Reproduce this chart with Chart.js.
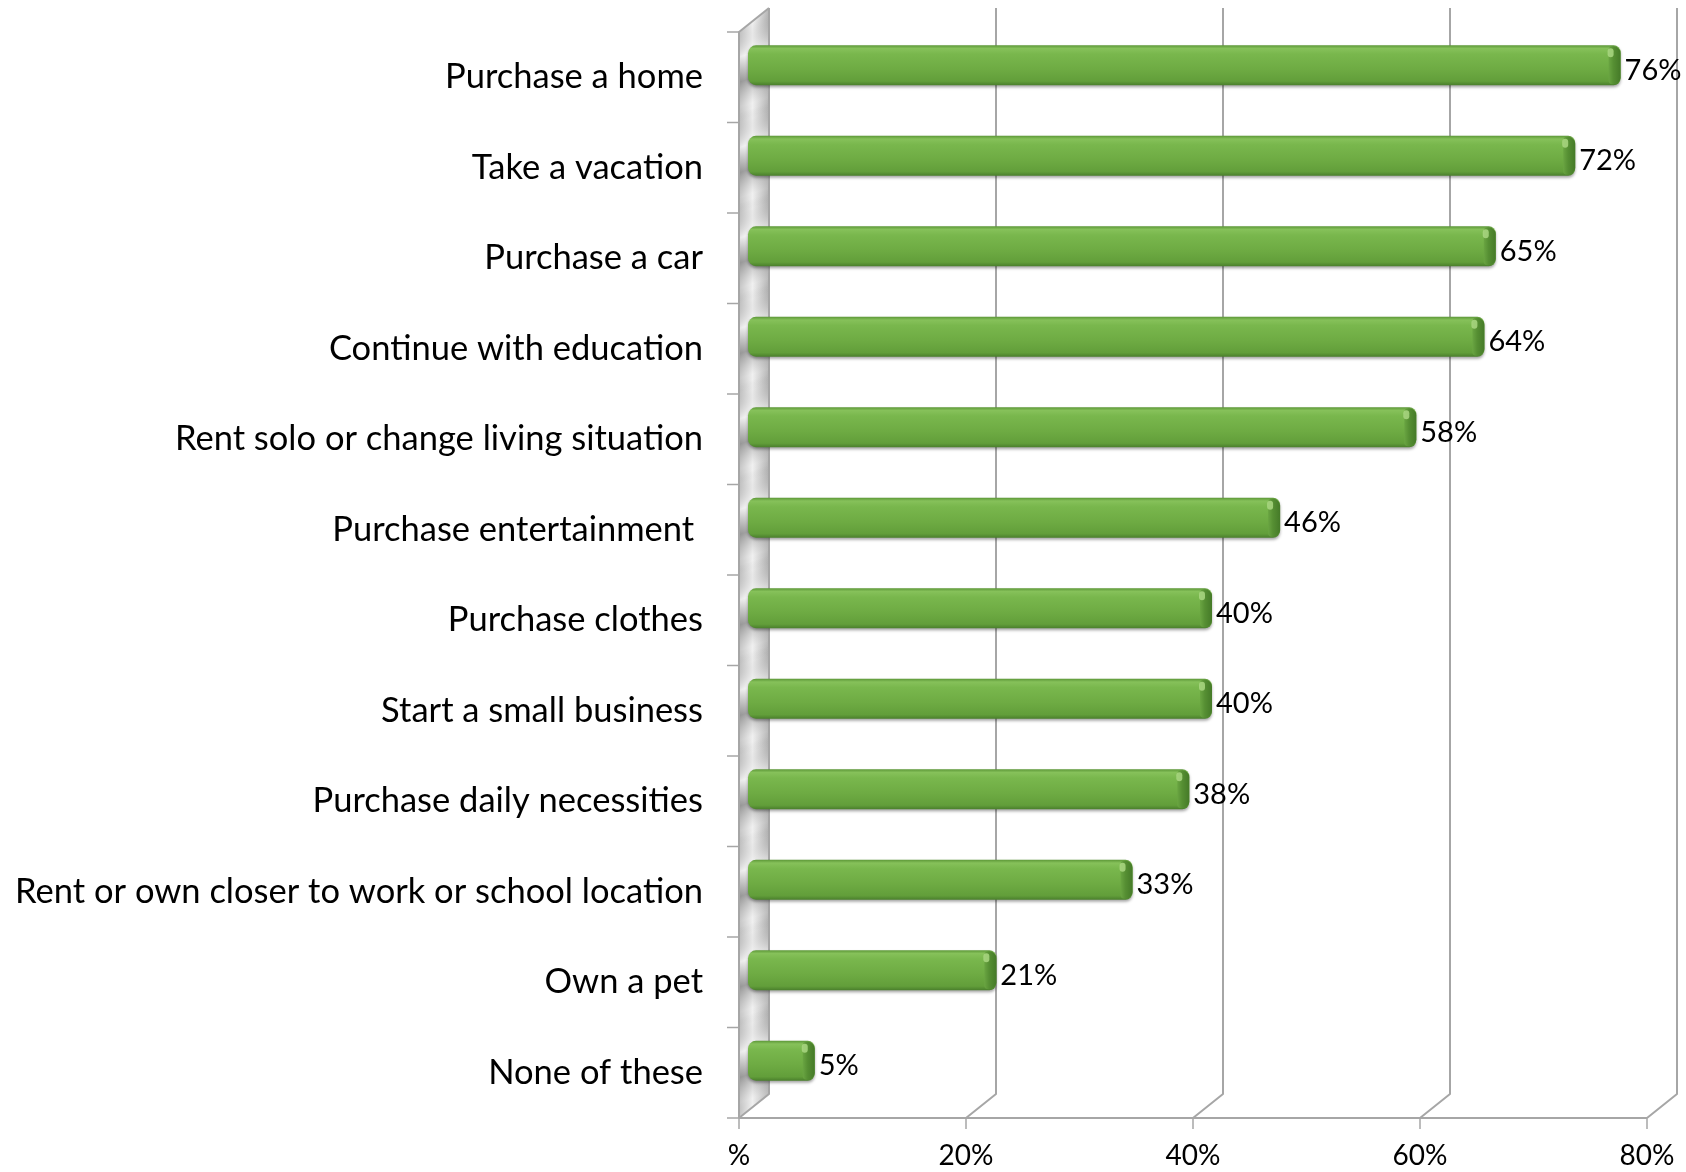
<!DOCTYPE html>
<html>
<head>
<meta charset="utf-8">
<script src="https://cdn.jsdelivr.net/npm/chart.js@4.4.0/dist/chart.umd.min.js"></script>
<style>
  html, body { margin: 0; padding: 0; background: #fff; }
  #wrap { width: 1686px; height: 1172px; }
</style>
</head>
<body>
<div id="wrap"><canvas id="chart"></canvas></div>
<script>
const categories = [
    'Purchase a home',
    'Take a vacation',
    'Purchase a car',
    'Continue with education',
    'Rent solo or change living situation',
    'Purchase entertainment ',
    'Purchase clothes',
    'Start a small business',
    'Purchase daily necessities',
    'Rent or own closer to work or school location',
    'Own a pet',
    'None of these'
];
const shares = [0.76, 0.72, 0.65, 0.64, 0.58, 0.46, 0.40, 0.40, 0.38, 0.33, 0.21, 0.05];
const shareLabels = ['76%', '72%', '65%', '64%', '58%', '46%', '40%', '40%', '38%', '33%', '21%', '5%'];
const xTicks = [0, 0.2, 0.4, 0.6, 0.8];
const xTickLabels = ['%', '20%', '40%', '60%', '80%'];

const FONT = 'Lato, "Open Sans", sans-serif';
// half of the 3D depth: back plane is up-right, front plane is down-left of the chart area
const DX = 15, DY = 12;
const LINE = '#a6a6a6';

// keep chart.js from reserving room for edge labels
const noPad = s => { s.paddingTop = 0; s.paddingBottom = 0; s.paddingLeft = 0; s.paddingRight = 0; };

const frame3d = {
    id: 'frame3d',
    beforeDatasetsDraw(chart) {
        const ctx = chart.ctx;
        const xs = chart.scales.x;
        const area = chart.chartArea;
        const band = area.height / categories.length;
        const x0 = xs.getPixelForValue(0);

        ctx.save();
        // side wall: horizontal sheen first, then a diagonal shade per band
        const wallPath = () => {
            ctx.beginPath();
            ctx.moveTo(x0 - DX, area.top + DY);
            ctx.lineTo(x0 + DX, area.top - DY);
            ctx.lineTo(x0 + DX, area.bottom - DY);
            ctx.lineTo(x0 - DX, area.bottom + DY);
            ctx.closePath();
        };
        const sheen = ctx.createLinearGradient(x0 - DX, 0, x0 + DX, 0);
        sheen.addColorStop(0, '#c4c4c4');
        sheen.addColorStop(0.45, '#fafafa');
        sheen.addColorStop(1, '#b4b4b4');
        ctx.fillStyle = sheen;
        wallPath();
        ctx.fill();
        ctx.save();
        wallPath();
        ctx.clip();
        for (let i = 0; i < categories.length; i++) {
            const fTop = area.top + DY + i * band;
            const g = ctx.createLinearGradient(x0 - DX, fTop - 10, x0 + DX, fTop + band - 10);
            g.addColorStop(0, 'rgba(120,120,120,0)');
            g.addColorStop(0.35, 'rgba(255,255,255,0.6)');
            g.addColorStop(0.6, 'rgba(110,110,110,0.55)');
            g.addColorStop(0.85, 'rgba(200,200,200,0.2)');
            g.addColorStop(1, 'rgba(120,120,120,0)');
            ctx.fillStyle = g;
            ctx.fillRect(x0 - DX, fTop - 2 * DY, 2 * DX, band + 2 * DY);
        }
        ctx.restore();

        ctx.strokeStyle = LINE;
        ctx.lineWidth = 2;
        ctx.lineJoin = 'round';

        // back gridlines with their floor diagonals
        xTicks.forEach(v => {
            const px = xs.getPixelForValue(v);
            ctx.beginPath();
            ctx.moveTo(px + DX, area.top - DY);
            ctx.lineTo(px + DX, area.bottom - DY);
            ctx.lineTo(px - DX, area.bottom + DY);
            ctx.stroke();
        });

        // wall front edge and top
        ctx.beginPath();
        ctx.moveTo(x0 + DX, area.top - DY);
        ctx.lineTo(x0 - DX, area.top + DY);
        ctx.lineTo(x0 - DX, area.bottom + DY);
        ctx.stroke();

        // floor front edge
        ctx.beginPath();
        ctx.moveTo(x0 - DX, area.bottom + DY);
        ctx.lineTo(xs.getPixelForValue(0.8) - DX, area.bottom + DY);
        ctx.stroke();

        // tick marks
        ctx.lineWidth = 1.5;
        for (let k = 0; k <= categories.length; k++) {
            const ty = area.top + DY + k * band;
            ctx.beginPath();
            ctx.moveTo(x0 - DX - 12, ty);
            ctx.lineTo(x0 - DX, ty);
            ctx.stroke();
        }
        xTicks.forEach(v => {
            const px = xs.getPixelForValue(v) - DX;
            ctx.beginPath();
            ctx.moveTo(px, area.bottom + DY);
            ctx.lineTo(px, area.bottom + DY + 11);
            ctx.stroke();
        });
        ctx.restore();
    },
    afterDatasetsDraw(chart) {
        const ctx = chart.ctx;
        const meta = chart.getDatasetMeta(0);
        ctx.save();
        meta.data.forEach((bar, i) => {
            const p = bar.getProps(['x', 'y', 'base', 'height'], true);
            const top = p.y - p.height / 2;
            const h = p.height;
            const left = p.base - 6;
            const right = p.x + 4;

            // body with soft shadow
            ctx.save();
            ctx.shadowColor = 'rgba(0,0,0,0.35)';
            ctx.shadowBlur = 3;
            ctx.shadowOffsetY = 2;
            const g = ctx.createLinearGradient(0, top, 0, top + h);
            g.addColorStop(0, '#5d9838');
            g.addColorStop(0.08, '#86c15a');
            g.addColorStop(0.22, '#79b74d');
            g.addColorStop(0.6, '#6eab43');
            g.addColorStop(0.9, '#629e3a');
            g.addColorStop(1, '#4a7f2c');
            ctx.fillStyle = g;
            ctx.beginPath();
            ctx.roundRect(left, top, right - left, h, [8, 7, 7, 8]);
            ctx.fill();
            ctx.restore();

            // end face of the bar
            const cw = 12;
            const cg = ctx.createLinearGradient(right - cw, 0, right, 0);
            cg.addColorStop(0, '#6aa542');
            cg.addColorStop(0.4, '#568f33');
            cg.addColorStop(1, '#457a28');
            ctx.fillStyle = cg;
            ctx.beginPath();
            ctx.roundRect(right - cw, top + 1, cw, h - 2, [4, 7, 7, 4]);
            ctx.fill();
            // highlight at the top of the end face
            ctx.fillStyle = 'rgba(170,215,130,0.85)';
            ctx.beginPath();
            ctx.roundRect(right - cw - 1, top + 3, 6, 9, 3);
            ctx.fill();

            // value label
            ctx.fillStyle = '#000';
            ctx.font = '29px ' + FONT;
            ctx.textAlign = 'left';
            ctx.textBaseline = 'middle';
            ctx.fillText(shareLabels[i], right + 4, p.y + 5);
        });
        ctx.restore();
    }
};

new Chart(document.getElementById('chart'), {
    type: 'bar',
    data: {
        labels: categories,
        datasets: [{
            data: shares,
            backgroundColor: 'rgba(0,0,0,0)',
            borderWidth: 0,
            barPercentage: 0.9,
            categoryPercentage: 0.49
        }]
    },
    options: {
        indexAxis: 'y',
        responsive: true,
        maintainAspectRatio: false,
        animation: false,
        layout: { padding: { top: 20, right: 24, left: 0, bottom: 0 } },
        plugins: {
            legend: { display: false },
            tooltip: { enabled: false }
        },
        scales: {
            x: {
                min: 0,
                max: 0.8,
                afterBuildTicks: s => { s.ticks = xTicks.map(v => ({ value: v })); },
                afterFit: s => { s.height = 66; noPad(s); },
                grid: { display: false, drawTicks: false },
                border: { display: false },
                ticks: {
                    callback: (v, i) => xTickLabels[i],
                    font: { family: FONT, size: 28 },
                    color: '#000',
                    padding: 33,
                    labelOffset: -DX,
                    maxRotation: 0
                }
            },
            y: {
                afterFit: s => { s.width = 754; noPad(s); },
                grid: { display: false, drawTicks: false },
                border: { display: false },
                ticks: {
                    font: { family: FONT, size: 34.5 },
                    color: '#000',
                    padding: 51,
                    labelOffset: DY
                }
            }
        }
    },
    plugins: [frame3d]
});
</script>
</body>
</html>
